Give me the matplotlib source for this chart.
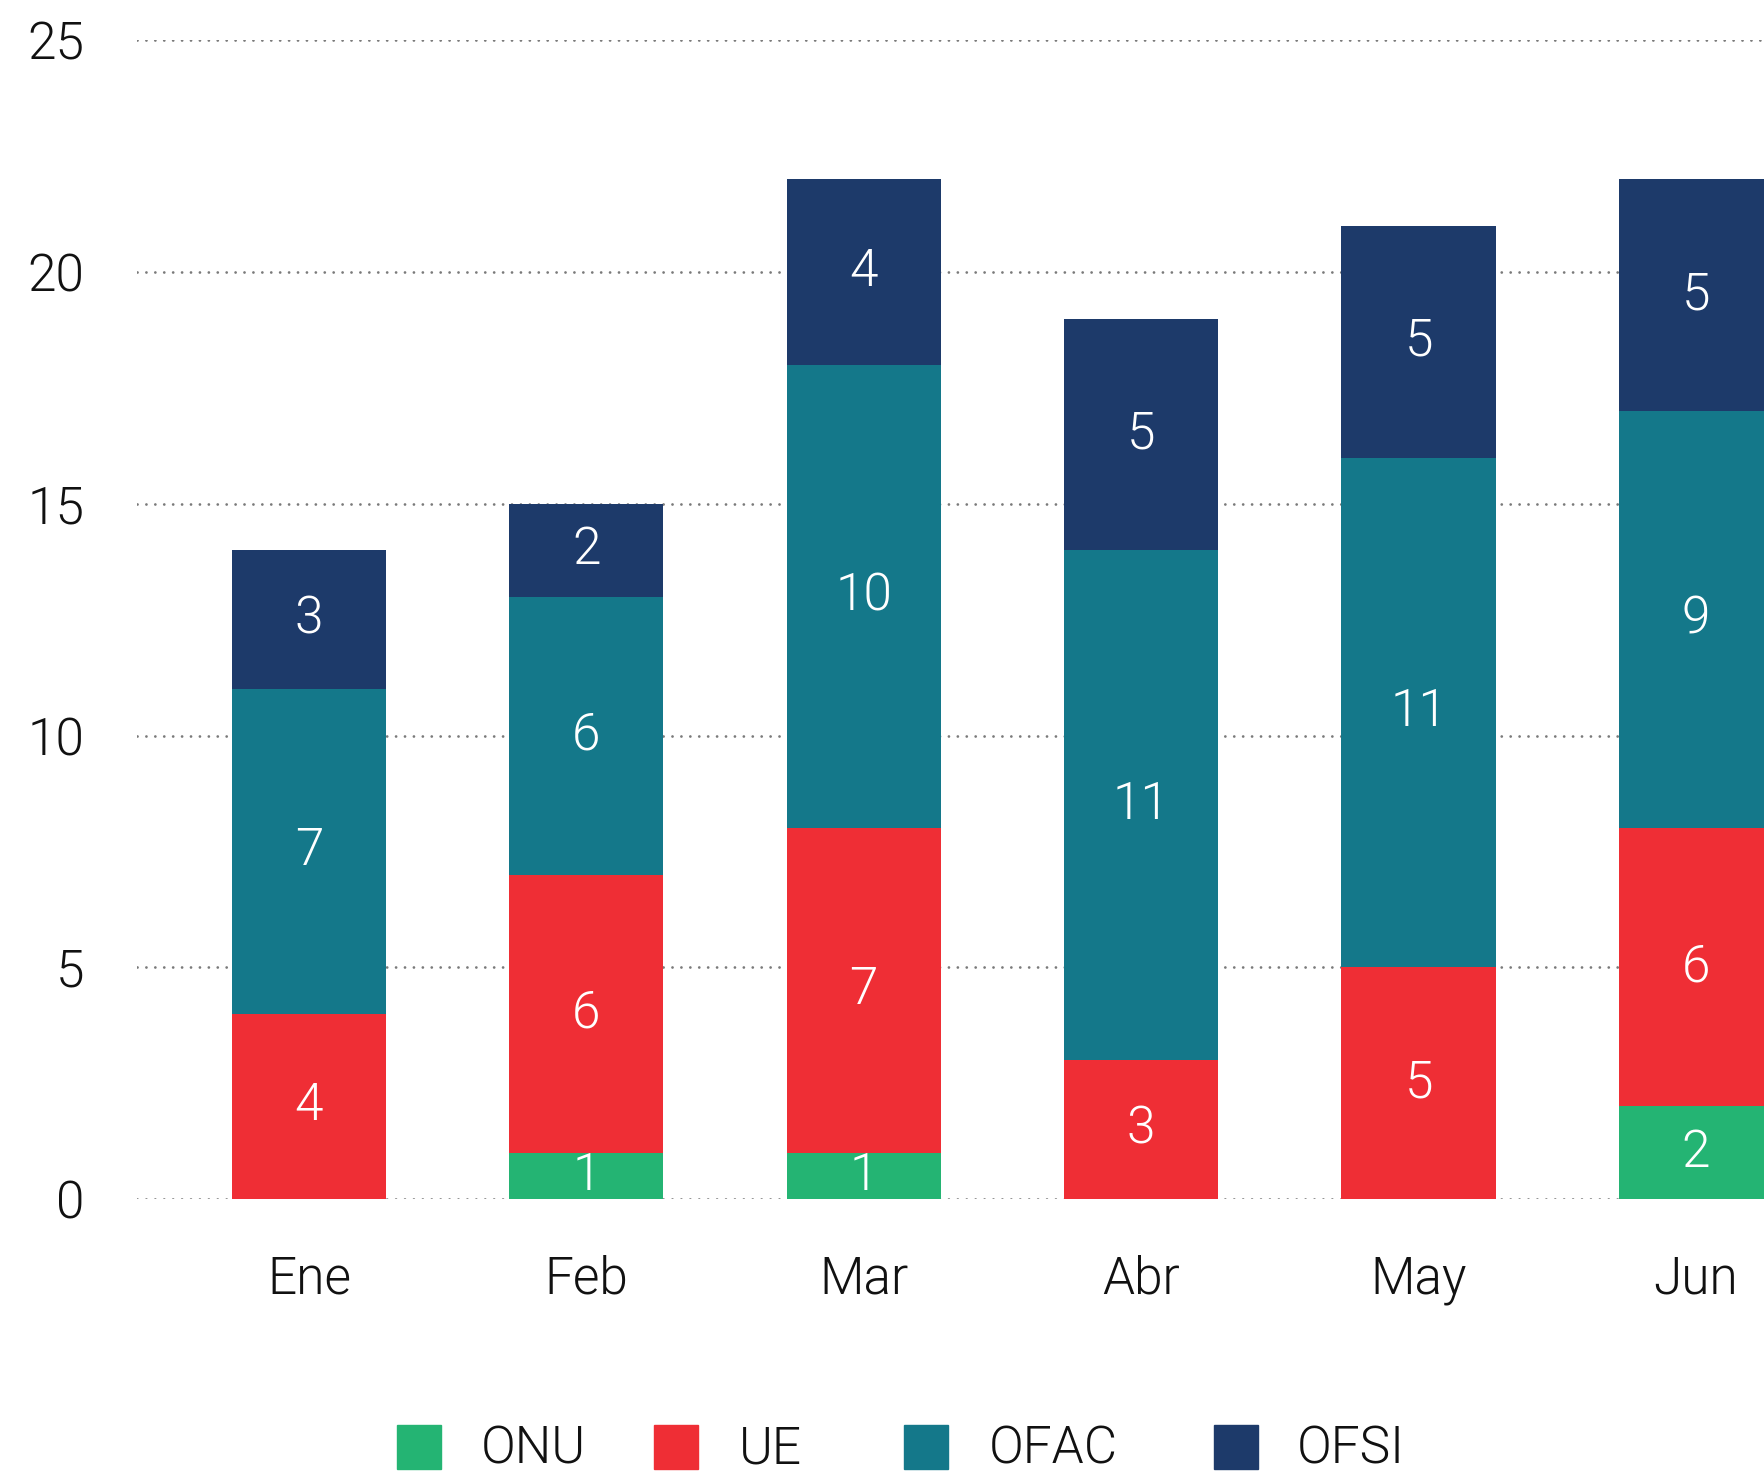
import matplotlib
matplotlib.use("Agg")
import matplotlib.pyplot as plt
import numpy as np

# Datos
meses = ["Ene", "Feb", "Mar", "Abr", "May", "Jun"]
onu = [0, 1, 1, 0, 0, 2]
ue = [4, 6, 7, 3, 5, 6]
ofac = [7, 6, 10, 11, 11, 9]
ofsi = [3, 2, 4, 5, 5, 5]
series_nombres = ["ONU", "UE", "OFAC", "OFSI"]
colores = ["#24B473", "#EF2E35", "#14788A", "#1D3A6A"]
yticks = [0, 5, 10, 15, 20, 25]

plt.rcParams['font.family'] = ['Roboto', 'DejaVu Sans']
FW = 300
FS = 37

fig = plt.figure(figsize=(17.64, 14.77), dpi=100)
ax = fig.add_axes([0.0778, 0.1882, 0.981, 0.7844])

x = np.arange(len(meses))
ancho = 0.556
base = np.zeros(len(meses))
for nombre, vals, col in zip(series_nombres, [onu, ue, ofac, ofsi], colores):
    vals = np.array(vals)
    ax.bar(x, vals, ancho, bottom=base, color=col, zorder=2)
    for xi, b, v in zip(x, base, vals):
        if v > 0:
            ax.text(xi, b + v / 2, str(v), ha='center', va='center', color='white',
                    fontsize=FS, fontweight=FW, zorder=3)
    base += vals

ax.set_xlim(-0.619, 5.619)
ax.set_ylim(0, 25)
ax.set_yticks(yticks)
# lineas de referencia punteadas
for yt in yticks:
    ax.axhline(yt, color='#7a7a7a', lw=2.0, ls=(0, (0.01, 3.2)),
               dash_capstyle='round', zorder=1)

ax.set_xticks(x)
ax.set_xticklabels(meses)
ax.tick_params(length=0)
ax.tick_params(axis='x', pad=40)
ax.tick_params(axis='y', pad=38)
for lab in ax.get_xticklabels() + ax.get_yticklabels():
    lab.set_fontsize(FS)
    lab.set_fontweight(FW)
    lab.set_color('#111111')
for s in ax.spines.values():
    s.set_visible(False)

# Leyenda manual
pos_parche = [397, 654, 904, 1214]
pos_texto = [481, 739, 989, 1297]
W, H = 1764.0, 1477.0
for nombre, col, px, tx in zip(series_nombres, colores, pos_parche, pos_texto):
    fig.add_artist(plt.Rectangle((px / W, 1 - 1469 / H), 44 / W, 44 / H,
                                 transform=fig.transFigure, color=col))
    fig.text(tx / W, 1 - 1449 / H, nombre, ha='left', va='center', fontsize=FS,
             fontweight=FW, color='#111111')

fig.savefig("out.png", dpi=100)
